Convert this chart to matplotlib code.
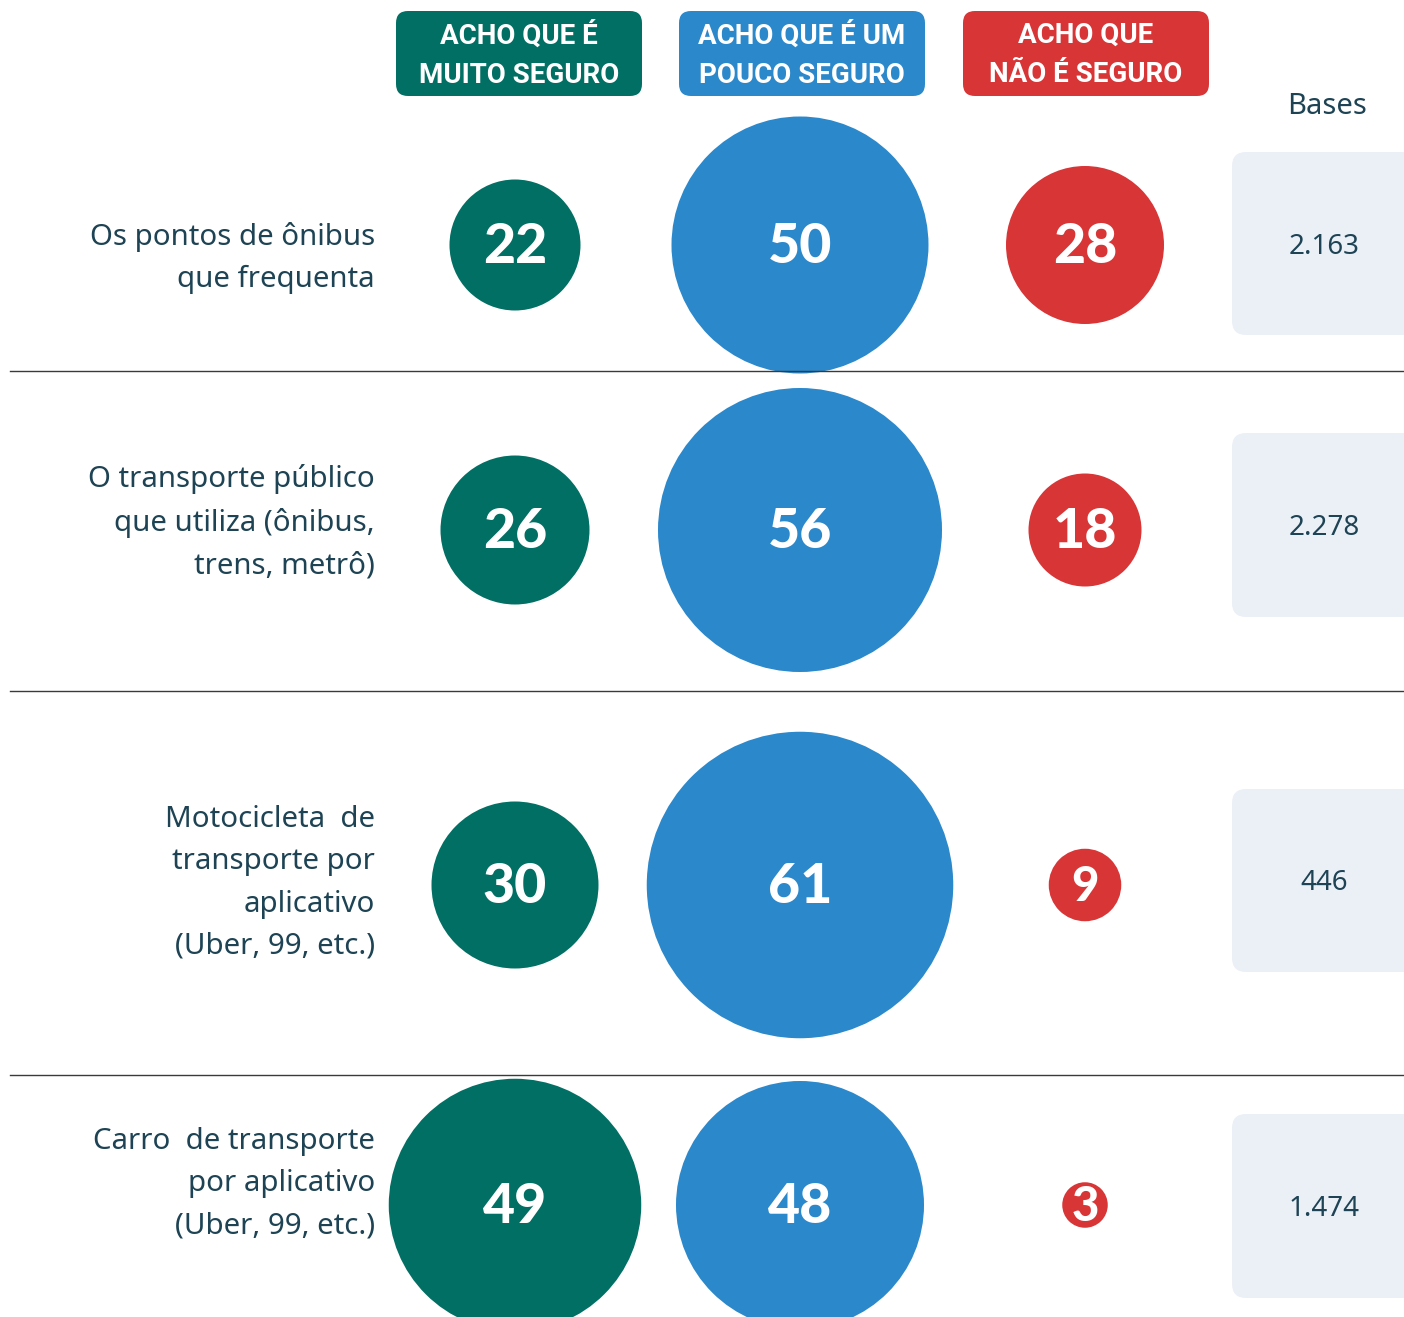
import matplotlib.pyplot as plt
from matplotlib.patches import Circle, FancyBboxPatch

# data
rows = ['Os pontos de ônibus\nque frequenta',
        'O transporte público\nque utiliza (ônibus,\ntrens, metrô)',
        'Motocicleta  de\ntransporte por\naplicativo\n(Uber, 99, etc.)',
        'Carro  de transporte\npor aplicativo\n(Uber, 99, etc.)']
headers = ['ACHO QUE É\nMUITO SEGURO', 'ACHO QUE É UM\nPOUCO SEGURO', 'ACHO QUE\nNÃO É SEGURO']
muito_seguro = [22, 26, 30, 49]
pouco_seguro = [50, 56, 61, 48]
nao_seguro = [28, 18, 9, 3]
bases = ['2.163', '2.278', '446', '1.474']

colors = ['#016f63', '#2b88cb', '#d83537']
txt_color = '#1d4354'

row_y = [245, 530, 885, 1205]
label_y = [258, 522, 883, 1184]
col_x = [515, 800, 1085]
head_x = [519, 802, 1086]
sep_y = [371, 691, 1075]
base_box = [(152, 335), (433, 617), (789, 972), (1114, 1298)]

fig = plt.figure(figsize=(14.04, 13.17), dpi=100)
ax = fig.add_axes([0, 0, 1, 1])
ax.set_xlim(0, 1404)
ax.set_ylim(1317, 0)
ax.axis('off')

# header boxes
for x, h, c in zip(head_x, headers, colors):
    ax.add_patch(FancyBboxPatch((x - 121, 13), 242, 81, boxstyle='round,pad=2,rounding_size=12',
                                fc=c, ec='none'))
    ax.text(x, 55, h, ha='center', va='center', color='white', fontsize=20,
            fontweight='bold', family='Roboto', linespacing=1.6)

ax.text(1327, 107, 'Bases', ha='center', va='center', color=txt_color, fontsize=21, family='Noto Sans')

# separators
for y in sep_y:
    ax.plot([10, 1404], [y, y], color='#3a3a3a', lw=1)

# rows
series = [muito_seguro, pouco_seguro, nao_seguro]
for i, y in enumerate(row_y):
    ax.text(375, label_y[i], rows[i], ha='right', va='center', color=txt_color, fontsize=21.2,
            family='Noto Sans', linespacing=1.6)
    for j, vals in enumerate(series):
        v = vals[i]
        d = 32 + 4.5 * v
        ax.add_patch(Circle((col_x[j], y), d / 2, fc=colors[j], ec='none'))
        fs = 40 if v >= 10 else 34
        ax.text(col_x[j], y + 2, str(v), ha='center', va='center', color='white', fontsize=fs,
                fontweight='black', family='Lato')
    y0, y1 = base_box[i]
    ax.add_patch(FancyBboxPatch((1234, y0 + 2), 200, y1 - y0 - 4, boxstyle='round,pad=2,rounding_size=14',
                                fc='#ebf0f7', ec='none'))
    ax.text(1324, (y0 + y1) / 2 + 3, bases[i], ha='center', va='center', color=txt_color, fontsize=20,
            family='Noto Sans')

fig.savefig('out.png', dpi=100)
